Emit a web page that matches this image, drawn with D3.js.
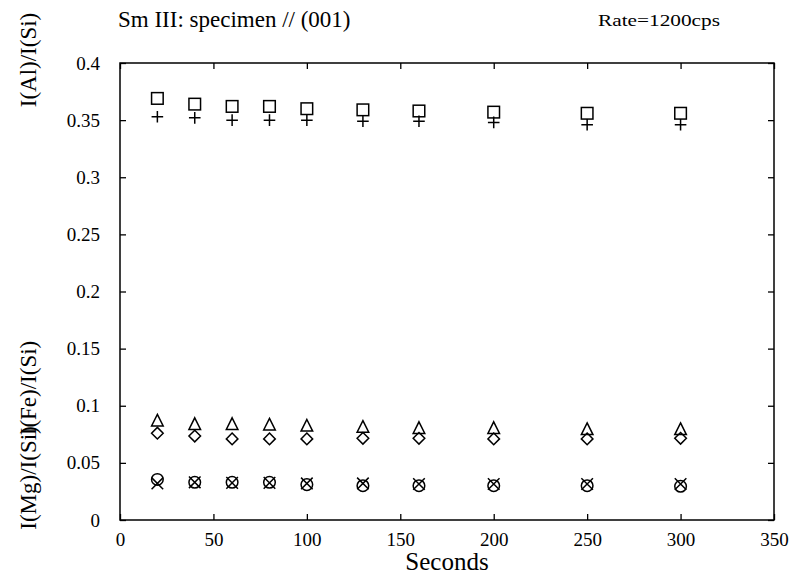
<!DOCTYPE html>
<html>
<head>
<meta charset="utf-8">
<script src="https://cdn.jsdelivr.net/npm/d3@7"></script>
<style>
  html, body { margin: 0; padding: 0; background: #fff; }
  svg { display: block; }
  text { font-family: "Liberation Serif", "Times New Roman", serif; fill: #000; }
</style>
</head>
<body>
<svg id="chart" width="792" height="577"></svg>
<script>
// Measurement times (s)
const seconds = [20, 40, 60, 80, 100, 130, 160, 200, 250, 300];

// Intensity ratios per measurement time
const alSquare  = [0.369, 0.364, 0.362, 0.362, 0.360, 0.359, 0.358, 0.357, 0.356, 0.356];
const alPlus    = [0.353, 0.352, 0.350, 0.350, 0.350, 0.349, 0.349, 0.348, 0.346, 0.346];
const feTri     = [0.0865, 0.0835, 0.0835, 0.083, 0.082, 0.081, 0.080, 0.080, 0.079, 0.079];
const feDiamond = [0.076, 0.0735, 0.071, 0.071, 0.071, 0.0715, 0.0715, 0.071, 0.071, 0.0715];
const mgCircle  = [0.0355, 0.033, 0.033, 0.033, 0.031, 0.030, 0.030, 0.030, 0.030, 0.0295];
const mgCross   = [0.032, 0.033, 0.0325, 0.0325, 0.032, 0.032, 0.0315, 0.0315, 0.0315, 0.0315];

const xTicks = [0, 50, 100, 150, 200, 250, 300, 350];
const yTicks = [0, 0.05, 0.1, 0.15, 0.2, 0.25, 0.3, 0.35, 0.4];

const svg = d3.select("#chart");
const plotL = 120, plotR = 774, plotT = 63, plotB = 520;

const x = d3.scaleLinear().domain([0, 350]).range([plotL, plotR]);
const y = d3.scaleLinear().domain([0, 0.4]).range([plotB, plotT]);

// Frame
svg.append("rect")
  .attr("x", plotL).attr("y", plotT)
  .attr("width", plotR - plotL).attr("height", plotB - plotT)
  .attr("fill", "none").attr("stroke", "#000").attr("stroke-width", 1.5);

// Axes with inward ticks on all four sides
const fmtY = d => d === 0 ? "0" : String(+d.toFixed(2));
const gL = svg.append("g").attr("transform", `translate(${plotL},0)`)
  .call(d3.axisLeft(y).tickValues(yTicks).tickSize(-6).tickPadding(20).tickFormat(fmtY));
const gR = svg.append("g").attr("transform", `translate(${plotR},0)`)
  .call(d3.axisRight(y).tickValues(yTicks).tickSize(-6).tickFormat(""));
const gB = svg.append("g").attr("transform", `translate(0,${plotB})`)
  .call(d3.axisBottom(x).tickValues(xTicks).tickSize(-6).tickPadding(13).tickFormat(d3.format("d")));
const gT = svg.append("g").attr("transform", `translate(0,${plotT})`)
  .call(d3.axisTop(x).tickValues(xTicks).tickSize(-6).tickFormat(""));

[gL, gR, gB, gT].forEach(g => {
  g.select(".domain").remove();
  g.selectAll(".tick line").attr("stroke", "#000").attr("stroke-width", 1.3);
  g.selectAll(".tick text").attr("font-size", 19).attr("fill", "#000")
    .style("font-family", "'Liberation Serif', serif");
});

// Marker drawing
const S = 5.8;
const markers = {
  square: g => g.append("rect").attr("x", -S).attr("y", -S).attr("width", 2 * S).attr("height", 2 * S),
  plus: g => g.append("path").attr("d", `M${-S},0H${S}M0,${-S}V${S}`),
  triangle: g => g.append("path").attr("d", `M0,${-S - 1}L${S},${S - 1}L${-S},${S - 1}Z`),
  diamond: g => g.append("path").attr("d", `M0,${-S}L${S},0L0,${S}L${-S},0Z`),
  circle: g => g.append("circle").attr("r", S),
  cross: g => g.append("path").attr("d", `M${-S},${-S}L${S},${S}M${S},${-S}L${-S},${S}`)
};

function drawSeries(values, kind) {
  const pts = svg.append("g").selectAll("g")
    .data(seconds.map((s, i) => ({ s, v: values[i] })))
    .join("g")
    .attr("transform", d => `translate(${x(d.s)},${y(d.v)})`)
    .attr("fill", "none").attr("stroke", "#000").attr("stroke-width", 1.5);
  pts.each(function () { markers[kind](d3.select(this)); });
}

drawSeries(alSquare, "square");
drawSeries(alPlus, "plus");
drawSeries(feTri, "triangle");
drawSeries(feDiamond, "diamond");
drawSeries(mgCircle, "circle");
drawSeries(mgCross, "cross");

// Titles and axis labels
svg.append("text").attr("x", 118).attr("y", 27).attr("font-size", 23)
  .text("Sm III: specimen // (001)");
svg.append("text").attr("x", 598).attr("y", 26).attr("font-size", 17)
  .attr("textLength", 122).attr("lengthAdjust", "spacingAndGlyphs")
  .text("Rate=1200cps");
svg.append("text").attr("x", x(175)).attr("y", 570).attr("text-anchor", "middle")
  .attr("font-size", 25).text("Seconds");

svg.append("text").attr("transform", "translate(36,60) rotate(-90)")
  .attr("text-anchor", "middle").attr("font-size", 23).text("I(Al)/I(Si)");
svg.append("text").attr("transform", "translate(36,388) rotate(-90)")
  .attr("text-anchor", "middle").attr("font-size", 23).text("I(Fe)/I(Si)");
svg.append("text").attr("transform", "translate(36,478) rotate(-90)")
  .attr("text-anchor", "middle").attr("font-size", 23).text("I(Mg)/I(Si)");
</script>
</body>
</html>
